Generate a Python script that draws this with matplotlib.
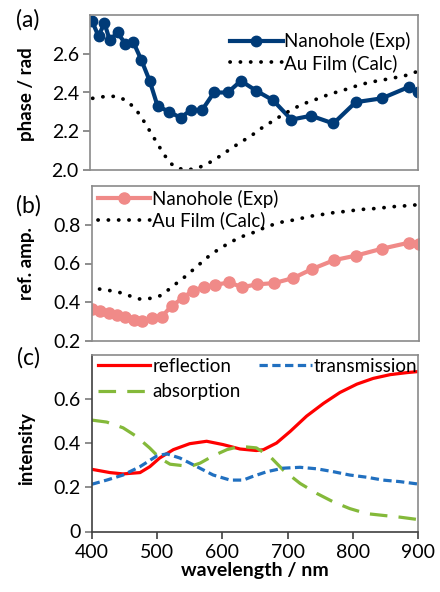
import numpy as np
import matplotlib
matplotlib.use("Agg")
import matplotlib.pyplot as plt

plt.rcParams['font.family'] = ['Lato', 'DejaVu Sans']

# (a) phase
hole_wl_a = [403, 413, 422, 430, 442, 454, 466, 478, 491, 503, 521, 538, 554, 571, 589, 610,
             630, 653, 679, 707, 737, 771, 805, 845, 887, 900]
hole_phase = [2.77, 2.69, 2.76, 2.67, 2.71, 2.65, 2.66, 2.57, 2.46, 2.33, 2.30, 2.27, 2.31, 2.31,
              2.40, 2.40, 2.46, 2.41, 2.36, 2.26, 2.28, 2.24, 2.35, 2.37, 2.43, 2.40]
film_wl_a = [404, 424, 440, 455, 468, 477, 486, 495, 511, 521, 532, 548, 564, 578, 593, 606,
             619, 633, 647, 661, 675, 689, 704, 718, 732, 749, 764, 779, 794, 807, 823, 838,
             855, 870, 884, 900]
film_phase = [2.37, 2.38, 2.38, 2.36, 2.32, 2.28, 2.23, 2.18, 2.09, 2.04, 2.01, 2.00, 2.01, 2.03,
              2.06, 2.09, 2.12, 2.15, 2.18, 2.215, 2.245, 2.275, 2.305, 2.33, 2.35, 2.37, 2.39,
              2.405, 2.42, 2.435, 2.45, 2.46, 2.47, 2.48, 2.49, 2.51]

# (b) reflection amplitude
hole_wl_b = [400, 413, 426, 438, 451, 464, 477, 492, 507, 522, 539, 554, 571, 588, 610, 630,
             652, 679, 708, 737, 770, 804, 843, 884, 900]
hole_amp = [0.364, 0.356, 0.346, 0.334, 0.322, 0.308, 0.304, 0.317, 0.325, 0.381, 0.421, 0.46,
            0.478, 0.49, 0.502, 0.478, 0.492, 0.499, 0.525, 0.572, 0.617, 0.641, 0.676, 0.707, 0.70]
film_wl_b = [412, 428, 443, 458, 473, 489, 505, 517, 530, 543, 555, 568, 580, 592, 606, 620,
             634, 649, 664, 679, 694, 710, 725, 742, 757, 772, 789, 804, 819, 835, 851, 866,
             881, 897]
film_amp = [0.468, 0.46, 0.45, 0.433, 0.417, 0.42, 0.434, 0.464, 0.499, 0.533, 0.568, 0.606,
            0.641, 0.669, 0.698, 0.724, 0.745, 0.762, 0.785, 0.803, 0.817, 0.825, 0.837, 0.849,
            0.855, 0.864, 0.869, 0.876, 0.881, 0.884, 0.89, 0.895, 0.898, 0.903]

# (c) intensities
refl_wl = [400, 428, 448, 474, 489, 504, 525, 550, 576, 601, 627, 652, 663, 683, 704, 729,
           755, 780, 806, 831, 857, 882, 900]
refl = [0.282, 0.267, 0.261, 0.267, 0.294, 0.333, 0.371, 0.398, 0.409, 0.394, 0.374, 0.367,
        0.371, 0.401, 0.454, 0.523, 0.581, 0.630, 0.668, 0.694, 0.711, 0.720, 0.725]
trans_wl = [400, 423, 448, 474, 500, 515, 535, 561, 586, 612, 632, 645, 668, 693, 719, 745,
            770, 795, 821, 846, 872, 900]
trans = [0.214, 0.233, 0.256, 0.294, 0.343, 0.352, 0.333, 0.294, 0.256, 0.233, 0.233, 0.248,
         0.271, 0.287, 0.291, 0.284, 0.271, 0.256, 0.246, 0.233, 0.226, 0.215]
abs_wl = [400, 423, 448, 468, 489, 504, 520, 535, 550, 566, 586, 607, 627, 652, 673, 693,
          719, 745, 770, 795, 821, 846, 872, 900]
absorb = [0.505, 0.496, 0.47, 0.432, 0.378, 0.333, 0.305, 0.300, 0.294, 0.310, 0.343, 0.371,
          0.386, 0.379, 0.34, 0.279, 0.218, 0.172, 0.134, 0.104, 0.081, 0.073, 0.065, 0.054]

W, H = 440, 592
fig = plt.figure(figsize=(W / 100, H / 100), dpi=100)


def box(l, t, r, b):
    return [l / W, 1 - b / H, (r - l) / W, (b - t) / H]


ax1 = fig.add_axes(box(90, 15, 418, 170))
ax2 = fig.add_axes(box(91.7, 186, 419, 341))
ax3 = fig.add_axes(box(91.7, 355, 418.3, 531.5))

dot = dict(color='black', lw=2.7, linestyle=(0, (0.05, 2.7)), dash_capstyle='round')
fs = 13.5
leg = dict(frameon=False, fontsize=fs, handlelength=2.8, handletextpad=0.1,
           borderpad=0, borderaxespad=0)

ax1.plot(hole_wl_a, hole_phase, '-o', color='#003b78', lw=3, ms=7.5, label='Nanohole (Exp)')
ax1.plot(film_wl_a, film_phase, label='Au Film (Calc)', **dot)
ax1.set_ylim(2.0, 2.8)
ax1.set_yticks([2.0, 2.2, 2.4, 2.6])
ax1.set_ylabel('phase / rad', fontweight='bold', fontsize=13.5)
ax1.yaxis.set_label_coords(-0.168, 0.49)
ax1.legend(loc='upper left', bbox_to_anchor=(0.427, 0.89), labelspacing=0.2, **leg)

ax2.plot(hole_wl_b, hole_amp, '-o', color='#f08a88', lw=3, ms=8, label='Nanohole (Exp)')
ax2.plot(film_wl_b, film_amp, label='Au Film (Calc)', **dot)
ax2.set_ylim(0.2, 1.0)
ax2.set_yticks([0.2, 0.4, 0.6, 0.8])
ax2.set_ylabel('ref. amp.', fontweight='bold', fontsize=13.5)
ax2.yaxis.set_label_coords(-0.172, 0.5)
ax2.legend(loc='upper left', bbox_to_anchor=(0.019, 0.975), labelspacing=0.2, **leg)

ax3.plot(refl_wl, refl, color='#ff0000', lw=2.3, label='reflection')
ax3.plot(abs_wl, absorb, color='#84b93a', lw=2.3, linestyle=(0, (5.5, 3.5)), label='absorption')
ax3.plot(trans_wl, trans, color='#2170c0', lw=2.3, linestyle=(0, (2.6, 1.4)), label='transmission')
ax3.set_ylim(0, 0.8)
ax3.set_yticks([0, 0.2, 0.4, 0.6])
ax3.set_yticklabels(['0', '0.2', '0.4', '0.6'])
ax3.set_ylabel('intensity', fontweight='bold', fontsize=13.5)
ax3.yaxis.set_label_coords(-0.172, 0.47)
ax3.set_xticks([400, 500, 600, 700, 800, 900])
ax3.set_xlabel('wavelength / nm', fontweight='bold', fontsize=14, labelpad=1)
ax3.legend(loc='upper left', bbox_to_anchor=(0.019, 0.985), ncol=2, labelspacing=0.45,
           columnspacing=1.0, **leg)

for ax in (ax1, ax2, ax3):
    ax.set_xlim(400, 900)
    for s in ax.spines.values():
        s.set_color('#8a8a8a')
        s.set_linewidth(1.2)
    ax.tick_params(axis='y', direction='out', length=5, width=1.2, color='#7a7a7a',
                   labelsize=14, pad=3)
    ax.tick_params(axis='x', direction='out', length=5, width=1.2, color='#404040',
                   labelsize=14, pad=4)

for ax in (ax1, ax2):
    ax.tick_params(axis='x', bottom=False, labelbottom=False)

ax3.spines['left'].set_color('#404040')
ax3.spines['bottom'].set_color('#404040')

fig.text(28 / W, 1 - 20 / H, '(a)', fontsize=16.5, ha='center', va='center')
fig.text(28 / W, 1 - 206 / H, '(b)', fontsize=16.5, ha='center', va='center')
fig.text(28 / W, 1 - 358 / H, '(c)', fontsize=16.5, ha='center', va='center')

fig.savefig('out.png', dpi=100)
